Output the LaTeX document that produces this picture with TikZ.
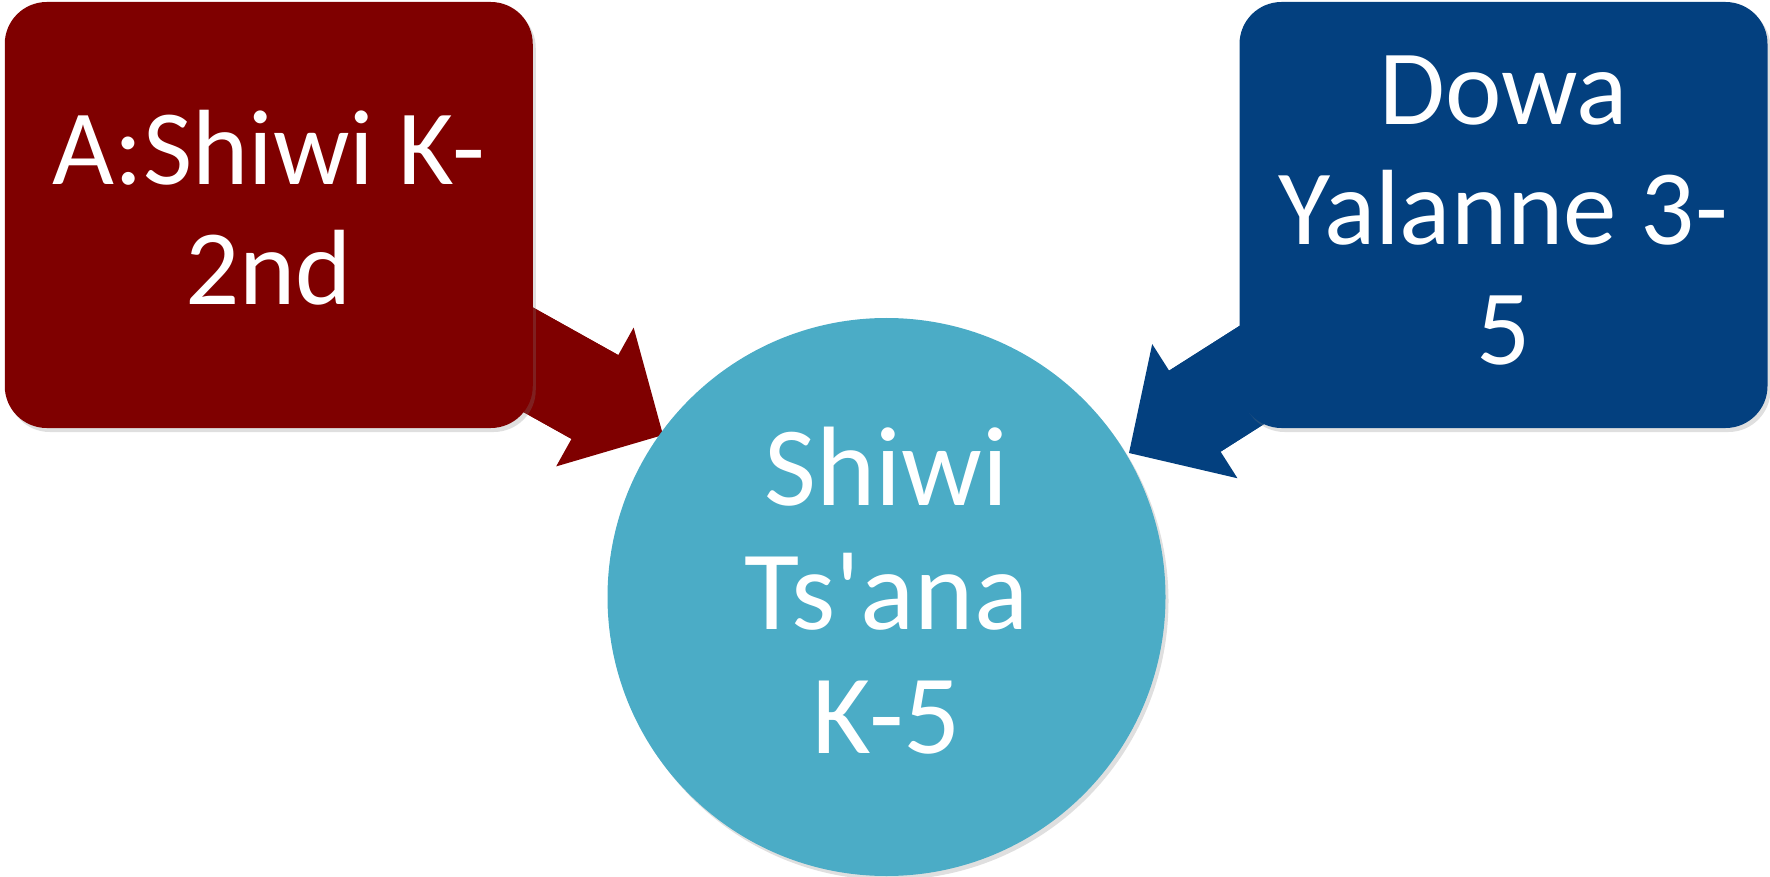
\documentclass[tikz,border=0pt]{standalone}
\usepackage{fontspec}
\setmainfont{Carlito}
\usepackage{xcolor}
\usepackage{tikz}
\usetikzlibrary{arrows.meta, shadows, backgrounds}

\definecolor{shiwired}{HTML}{7F0000}
\definecolor{dowablue}{HTML}{03407F}
\definecolor{tsanacyan}{HTML}{4BACC6}

\begin{document}
\begin{tikzpicture}[x=1pt, y=-1pt,
	gradebox/.style={rectangle, rounded corners=42pt, minimum width=528pt, minimum height=426pt, inner sep=0pt, align=center, text=white, font=\fontsize{107}{120}\selectfont, text depth=16pt, drop shadow={shadow xshift=3pt, shadow yshift=-4pt, opacity=0.25}},
	schoolring/.style={circle, minimum size=558pt, inner sep=0pt, align=center, text=white, font=\fontsize{113}{124}\selectfont, text depth=14pt, fill=tsanacyan, drop shadow={shadow xshift=3pt, shadow yshift=-4pt, opacity=0.25}},
	blockarrow/.style={line width=96pt, -{Triangle[length=78pt, width=159pt, line width=0pt]}, postaction={draw, -, shorten >=70pt}}]
	\useasboundingbox (0,0) rectangle (1770,877);
	%
	\node[gradebox, fill=shiwired] (ashiwi) at (268.75,215) {A:Shiwi K-\\2nd};
	\node[gradebox, fill=dowablue, text depth=10pt] (dowa) at (1503.5,215) {Dowa\\Yalanne 3-\\5};
	\node[schoolring] (tsana) at (886.5,597) {Shiwi\\Ts\textquotesingle ana\\K-5};
	%
	\coordinate (redtip) at (663,435);
	\coordinate (bluetip) at (1129,453);
	%
	\begin{scope}[on background layer]
		\draw[blockarrow, shiwired] (ashiwi.center) -- (redtip);
		\draw[blockarrow, dowablue] (dowa.center) -- (bluetip);
	\end{scope}
\end{tikzpicture}
\end{document}
